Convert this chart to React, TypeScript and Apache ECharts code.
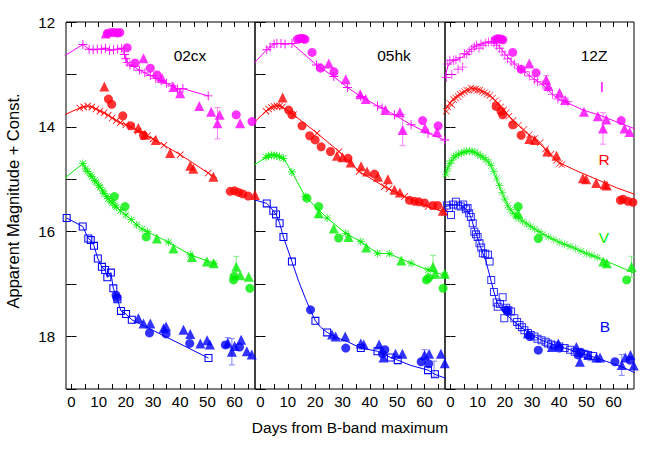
import React, { useEffect, useRef } from "react";
import * as echarts from "echarts";

// ---------- tick values ----------
const X_TICKS = [0, 5, 10, 15, 20, 25, 30, 35, 40, 45, 50, 55, 60, 65];
const X_LABELS = [0, 10, 20, 30, 40, 50, 60];
const PANELS = ["02cx", "05hk", "12Z"];
const BANDS = ["I", "R", "V", "B"];

// ---------- SN 2002cx ----------
const I_02cx_pts = [[4.2,12.43],[6.5,12.52],[8,12.53],[9.5,12.52],[11,12.52],[12.5,12.5],[14,12.54],[15.5,12.53],[17,12.52],[18.5,12.5],[19.5,12.62],[20,12.7],[20.5,12.77],[21.5,12.82],[23,12.85],[25,12.92],[27,12.97],[29,13.02],[31,13.08],[33,13.12],[35,13.17],[37,13.22],[39,13.28],[41,13.27],[50.3,13.41]];
const I_02cx_extra = [[-3,12.66]];
const I_02cx_circ = [[13.2,12.22],[14.5,12.2],[15.8,12.2],[17,12.21],[17.8,12.2],[20.5,12.49],[23.4,12.78],[29,12.88],[31.5,13.01],[60.6,13.77],[66.4,13.9]];
const I_02cx_tri = [[12.6,12.22],[26.5,12.69],[33.3,13.07],[37.5,13.24],[40,13.36],[47,13.6],[51.4,13.71],[54.5,13.77],[53.7,13.93],[62,13.93],[67.6,14.09]];
const I_02cx_err = [[53.7,13.93,0.3]];

const R_02cx_pts = [[3.1,13.64],[4.5,13.62],[6,13.6],[7.5,13.62],[9,13.66],[10.5,13.7],[12,13.73],[13.5,13.78],[15,13.83],[16.5,13.88],[18,13.92],[20,13.96],[22,14.0],[24.5,14.08],[28,14.17],[30,14.23],[34,14.35],[40,14.53],[50.3,14.88]];
const R_02cx_extra = [[-3,13.78],[53.5,14.98]];
const R_02cx_circ = [[13.6,13.47],[14.8,13.57],[18.9,13.79],[21.8,13.98],[26.5,14.16],[58.4,15.23],[60,15.22],[61.5,15.25],[63,15.28],[65,15.32]];
const R_02cx_tri = [[12.1,13.23],[24.6,14.02],[27,14.15],[31,14.25],[36.3,14.5],[43.7,14.74],[44.8,14.8],[52.2,14.95],[67.5,15.3]];
const R_02cx_err: number[][] = [];

const V_02cx_pts = [[4.2,14.7],[5.2,14.8],[6,14.85],[7,14.92],[7.5,14.95],[8.5,15.02],[9,15.05],[10,15.12],[10.5,15.15],[11.5,15.22],[12,15.27],[13,15.33],[13.5,15.37],[14.5,15.42],[15,15.45],[16,15.5],[16.5,15.53],[18,15.6],[20,15.68],[22,15.77],[24,15.87],[26,15.95],[28,16.0],[35.7,16.2],[43.7,16.44],[52.3,16.6]];
const V_02cx_extra = [[-3,15.0],[53.5,16.62]];
const V_02cx_circ = [[15.8,15.33],[19.7,15.52],[27.5,16.1],[59.6,16.92],[59.8,16.85],[65.6,17.08]];
const V_02cx_tri = [[31.4,16.13],[37.5,16.32],[44.3,16.48],[49.8,16.57],[52.3,16.6],[60.6,16.67],[62.1,16.83],[65.2,16.86],[67.6,16.9]];
const V_02cx_err = [[60.6,16.67,0.2]];

const B_02cx_pts = [[-1.75,15.74],[4.15,15.9],[6.2,16.13],[7.1,16.16],[8.3,16.27],[9.7,16.51],[11.2,16.67],[12.4,16.73],[13.2,16.87],[14.5,16.78],[15.4,17.08],[16.9,17.29],[18.2,17.51],[20.1,17.57],[22.2,17.68],[50.4,18.41]];
const B_02cx_extra: number[][] = [];
const B_02cx_circ = [[16.4,17.21],[16.7,17.26],[28.7,17.93],[34.8,17.95],[43.5,18.13],[56.6,18.16],[61.8,18.2]];
const B_02cx_tri = [[24.6,17.65],[26.5,17.75],[29,17.75],[33.9,17.84],[34.8,17.81],[41.2,17.87],[43.7,17.95],[47.4,18.13],[49.9,18.07],[50.9,18.15],[57.5,18.12],[59,18.29],[60,18.18],[62.4,18.06],[64.5,18.28],[66.3,18.34],[68,18.36]];
const B_02cx_err = [[59,18.29,0.25],[57.5,18.12,0.1]];

// ---------- SN 2005hk ----------
const I_05hk_pts = [[2.3,12.53],[3.5,12.48],[5,12.42],[6,12.41],[7.5,12.41],[9,12.42],[11.5,12.41],[20.5,12.82],[26.8,13.04],[31.8,13.25],[36.7,13.42],[42.8,13.6],[44.5,13.64],[49,13.77],[55.1,13.96],[61.3,14.12],[67.4,14.25]];
const I_05hk_extra = [[-3,12.82],[69,14.29]];
const I_05hk_circ = [[13.5,12.33],[14.3,12.32],[15,12.31],[15.8,12.32],[16.3,12.33],[18.9,12.58],[22,12.88],[26.9,12.95],[59.3,13.88],[65,13.98]];
const I_05hk_tri = [[25,12.79],[31.2,13.09],[36.5,13.38],[38.5,13.47],[45.7,13.68],[51,13.72],[52,14.06],[60.2,14.02],[64.6,14.1],[68,14.25]];
const I_05hk_err = [[52,14.06,0.3],[21.5,12.85,0.06]];

const R_05hk_pts = [[2,13.7],[3,13.66],[4,13.63],[5,13.61],[6,13.6],[7,13.6],[8,13.62],[12.1,13.77],[20.7,14.12],[28.7,14.47],[36.1,14.85],[45.3,15.14],[47,15.18],[52.7,15.33],[61.3,15.52],[67.4,15.63]];
const R_05hk_extra = [[-3,13.95],[69,15.65]];
const R_05hk_circ = [[10.3,13.68],[11.5,13.77],[15.2,13.98],[18,14.17],[20,14.25],[22.2,14.38],[25.6,14.47],[32,14.6],[41.7,14.9],[54.5,15.4],[56.4,15.42],[58,15.43],[60,15.45],[63,15.5],[64.8,15.5]];
const R_05hk_tri = [[8.1,13.44],[28,14.55],[30,14.58],[33,14.68],[36.8,14.75],[39,14.85],[43,14.95],[46.6,15.0],[49,15.2],[51,15.25],[66.7,15.6]];
const R_05hk_err: number[][] = [];

const V_05hk_pts = [[2,14.58],[3,14.55],[4,14.54],[5,14.54],[6,14.55],[7,14.57],[8.4,14.6],[11.5,14.86],[16.4,15.33],[24.4,15.74],[31.2,16.03],[36.7,16.19],[42.8,16.41],[47.1,16.42],[55.1,16.6],[61.3,16.73],[67.4,16.83]];
const V_05hk_extra = [[-3,14.75],[69,16.85]];
const V_05hk_circ = [[17,15.36],[21.3,15.52],[28.6,16.12],[60.7,16.92],[61.5,16.88],[66.8,17.08]];
const V_05hk_tri = [[21.3,15.65],[26.8,15.94],[32.2,16.1],[38.7,16.3],[51.5,16.55],[63.1,16.67],[64,16.8],[67.4,16.8]];
const V_05hk_err = [[21.3,15.65,0.08],[63.1,16.67,0.22]];

const B_05hk_pts = [[2.3,15.46],[4.7,15.6],[5.7,15.67],[7,15.84],[8.4,16.1],[11.5,16.57],[20.1,17.7],[24.4,17.92],[36.7,18.22],[42.8,18.28],[47.7,18.4],[50.2,18.45],[61.3,18.64],[63.8,18.72]];
const B_05hk_extra = [[-3,15.38],[14,16.95],[16.5,17.28],[18.3,17.5],[22,17.82],[28,18.02],[32,18.1],[55,18.55],[69,18.82]];
const B_05hk_circ = [[18.3,17.49],[31.2,18.22],[44.6,18.33],[45.5,18.25],[58.8,18.48],[61.5,18.52]];
const B_05hk_tri = [[26.2,17.96],[27.5,18.0],[31,18.0],[36.7,18.13],[37.8,18.15],[43.4,18.15],[45,18.4],[49.4,18.33],[51.9,18.33],[60,18.35],[61.7,18.33],[66,18.33],[67.4,18.51]];
const B_05hk_err = [[60,18.35,0.1],[63.5,18.62,0.15]];

// ---------- SN 2012Z ----------
const I_12Z_pts = [[-1.5,13.06],[-1,12.8],[-0.2,12.73],[0.5,13.0],[1.2,12.73],[2,12.72],[2.8,12.9],[3.5,12.68],[4.5,12.86],[5.2,12.6],[6,12.62],[6.9,12.56],[7.8,12.52],[8.8,12.47],[9.6,12.44],[10.5,12.5],[11.2,12.42],[12,12.45],[13,12.4],[14,12.38],[15,12.37],[16,12.4],[17,12.45],[18,12.5],[19,12.57],[20,12.63],[21,12.7],[22.3,12.76],[23.5,12.8],[25,12.88],[26,12.9],[27.2,12.95],[29,13.03],[30.9,13.1],[32,13.14],[34,13.2],[35.8,13.26],[37.5,13.38],[39.5,13.47],[41,13.5],[43.2,13.52]];
const I_12Z_fit = [[-2,13.05],[-1,12.85],[0,12.78],[2,12.72],[4,12.68],[6,12.6],[8,12.5],[10,12.44],[12,12.41],[14,12.38],[16,12.39],[18,12.47],[20,12.6],[22,12.72],[24,12.82],[26,12.9],[28,12.98],[30,13.06],[32,13.13],[34,13.2],[36,13.3],[38,13.4],[40,13.48],[43,13.54],[48.8,13.68],[55,13.78],[62.3,13.93],[69,14.06]];
const I_12Z_circ = [[16.5,12.34],[17.2,12.32],[18,12.32],[18.8,12.33],[19.3,12.34],[22.9,12.58],[26,12.9],[31.5,12.97],[62.8,13.88]];
const I_12Z_tri = [[29,12.79],[35.2,13.1],[36,13.22],[40.1,13.35],[42.2,13.49],[49.1,13.71],[54.2,13.8],[57.3,13.86],[56.1,14.03],[64,14.03],[65.9,14.1]];
const I_12Z_err = [[56.1,14.03,0.3],[35.2,13.1,0.08]];

const R_12Z_pts = [[-1.5,13.7],[-1,13.62],[-0.2,13.55],[0.5,13.58],[1.2,13.48],[2,13.45],[2.8,13.42],[3.6,13.38],[4.4,13.36],[5.2,13.33],[6,13.3],[6.8,13.3],[7.6,13.26],[8.4,13.28],[9.2,13.28],[10,13.3],[10.8,13.3],[11.6,13.33],[12.5,13.35],[13.5,13.38],[14.5,13.4],[15.5,13.45],[16.5,13.5],[17.5,13.55],[18.5,13.62],[19.5,13.68],[20.5,13.73],[21.5,13.8],[23,13.88],[25,13.97],[27,14.05],[29,14.15],[31,14.22],[33,14.3],[35,14.42],[37,14.52],[39,14.64],[40.1,14.7],[41,14.72]];
const R_12Z_fit = [[-2,13.68],[0,13.52],[2,13.42],[4,13.35],[6,13.3],[8,13.27],[10,13.28],[12,13.32],[14,13.38],[16,13.47],[18,13.58],[20,13.7],[22,13.82],[24,13.92],[26,14.02],[28,14.12],[30,14.2],[32,14.28],[34,14.38],[36,14.5],[38,14.6],[40,14.68],[42,14.73],[46,14.83],[51,14.94],[56,15.05],[61,15.16],[69,15.31]];
const R_12Z_circ = [[16.8,13.61],[18.6,13.7],[19.2,13.77],[22.9,13.96],[26,14.16],[62.5,15.4],[63.5,15.38],[65.3,15.42],[67.1,15.44]];
const R_12Z_tri = [[29,14.23],[31,14.25],[35.6,14.47],[39,14.55],[48.7,14.98],[49.9,15.0],[53.6,15.07],[56.7,15.1],[57.5,15.12]];
const R_12Z_err: number[][] = [];

const V_12Z_pts = [[-1.6,14.9],[-1,14.8],[-0.4,14.7],[0.4,14.65],[1.2,14.58],[2,14.55],[3,14.52],[4,14.5],[5,14.48],[6,14.47],[7,14.46],[8,14.47],[9,14.48],[10,14.52],[11,14.55],[12,14.58],[13,14.62],[14,14.67],[15,14.74],[16,14.85],[17,14.98],[18,15.12],[19,15.25],[20,15.38],[21,15.5],[22,15.58],[23,15.65],[24,15.7],[25,15.75],[26.5,15.8],[28,15.85],[29.5,15.9],[31,15.95],[32.5,16.0],[34,16.05],[36,16.1],[38,16.15],[40,16.2],[42,16.24],[44,16.28],[46,16.32],[48,16.37],[50,16.42],[52,16.45],[54,16.49]];
const V_12Z_fit = [[-2,14.95],[-1,14.78],[0,14.68],[2,14.56],[4,14.5],[6,14.47],[8,14.47],[10,14.51],[12,14.58],[14,14.68],[15,14.76],[16,14.87],[17,15.0],[18,15.13],[19,15.26],[20,15.38],[21,15.49],[22,15.57],[24,15.68],[26,15.77],[28,15.84],[30,15.91],[32,15.98],[34,16.04],[36,16.1],[40,16.2],[44,16.28],[48,16.37],[52,16.45],[56,16.54],[60,16.62],[64,16.71],[69,16.83]];
const V_12Z_circ = [[24.9,15.52],[32.3,16.13],[64.8,16.92]];
const V_12Z_tri = [[24.9,15.65],[56.2,16.57],[57.5,16.6],[66.6,16.67],[67.8,16.76]];
const V_12Z_err = [[66.6,16.67,0.2]];

const B_12Z_pts = [[-1.3,15.5],[-0.5,15.55],[0.2,15.68],[1,15.48],[2,15.43],[2.8,15.5],[3.8,15.52],[4.7,15.48],[5.7,15.57],[6.3,15.55],[6.9,15.65],[7.5,15.72],[8.2,15.84],[8.8,16.0],[9.4,16.05],[10,16.1],[10.7,16.22],[11.3,16.3],[11.9,16.41],[12.8,16.42],[13.8,16.44],[14.4,16.57],[15,16.92],[16,17.15],[17,17.35],[17.4,17.43],[18.2,17.38],[19.2,17.25],[19.8,17.65],[20.5,17.45],[21.3,17.5],[22.3,17.52],[23.5,17.65],[24.5,17.72],[25.4,17.78],[26.3,17.82],[27.2,17.88],[28.5,17.93],[29.5,17.97],[30.9,18.0],[32,18.04],[33.5,18.07],[35,18.1],[35.8,18.13],[37,18.15],[38.5,18.17],[40,18.19],[42,18.22],[44,18.25],[45.7,18.29],[47.5,18.31],[49,18.33],[50.6,18.35],[52.5,18.37]];
const B_12Z_fit = [[-2,15.52],[0,15.5],[2,15.48],[4,15.5],[6,15.58],[7,15.66],[8,15.8],[9,15.98],[10,16.12],[11,16.28],[12,16.42],[13,16.55],[14,16.75],[15,16.95],[16,17.15],[17,17.32],[18,17.43],[19,17.5],[20,17.56],[22,17.65],[24,17.74],[26,17.82],[28,17.9],[30,17.97],[32,18.03],[34,18.08],[36,18.12],[40,18.19],[44,18.25],[48,18.32],[52,18.38],[56,18.45],[60,18.52],[64,18.6],[69,18.72]];
const B_12Z_circ = [[20.6,17.49],[21,17.52],[29.2,18.0],[32.3,18.26],[40,18.22],[46.9,18.35],[48,18.3],[60.5,18.48],[66,18.45]];
const B_12Z_tri = [[28.5,17.94],[37.3,18.2],[39.7,18.13],[46.3,18.2],[47.6,18.48],[50.7,18.35],[53.7,18.4],[55,18.4],[63,18.54],[64.3,18.4],[66.2,18.35],[67.4,18.55]];
const B_12Z_err = [[63,18.54,0.2],[51.5,18.38,0.08]];

// ---------- table assembled from the arrays ----------
type Pt = number[];
interface BandSet { pts: Pt[]; line: Pt[]; connect: boolean; circ: Pt[]; tri: Pt[]; err: Pt[] }
const TABLE: Record<string, Record<string, BandSet>> = {
  "02cx": {
    I: { pts: I_02cx_pts, line: I_02cx_extra, connect: true, circ: I_02cx_circ, tri: I_02cx_tri, err: I_02cx_err },
    R: { pts: R_02cx_pts, line: R_02cx_extra, connect: true, circ: R_02cx_circ, tri: R_02cx_tri, err: R_02cx_err },
    V: { pts: V_02cx_pts, line: V_02cx_extra, connect: true, circ: V_02cx_circ, tri: V_02cx_tri, err: V_02cx_err },
    B: { pts: B_02cx_pts, line: B_02cx_extra, connect: true, circ: B_02cx_circ, tri: B_02cx_tri, err: B_02cx_err },
  },
  "05hk": {
    I: { pts: I_05hk_pts, line: I_05hk_extra, connect: true, circ: I_05hk_circ, tri: I_05hk_tri, err: I_05hk_err },
    R: { pts: R_05hk_pts, line: R_05hk_extra, connect: true, circ: R_05hk_circ, tri: R_05hk_tri, err: R_05hk_err },
    V: { pts: V_05hk_pts, line: V_05hk_extra, connect: true, circ: V_05hk_circ, tri: V_05hk_tri, err: V_05hk_err },
    B: { pts: B_05hk_pts, line: B_05hk_extra, connect: true, circ: B_05hk_circ, tri: B_05hk_tri, err: B_05hk_err },
  },
  "12Z": {
    I: { pts: I_12Z_pts, line: I_12Z_fit, connect: false, circ: I_12Z_circ, tri: I_12Z_tri, err: I_12Z_err },
    R: { pts: R_12Z_pts, line: R_12Z_fit, connect: false, circ: R_12Z_circ, tri: R_12Z_tri, err: R_12Z_err },
    V: { pts: V_12Z_pts, line: V_12Z_fit, connect: false, circ: V_12Z_circ, tri: V_12Z_tri, err: V_12Z_err },
    B: { pts: B_12Z_pts, line: B_12Z_fit, connect: false, circ: B_12Z_circ, tri: B_12Z_tri, err: B_12Z_err },
  },
};

// ---------- styles ----------
const FONT = '"Liberation Sans", Arial, Helvetica, sans-serif';
const PLUS = "path://M0,4.5H10V5.5H0Z M4.5,0H5.5V10H4.5Z";
const CROSS = "path://M0.8,0L10,9.2L9.2,10L0,0.8Z M9.2,0L10,0.8L0.8,10L0,9.2Z";
const STAR = "path://M0,4.55H10V5.45H0Z M4.55,0H5.45V10H4.55Z M1.5,0.9L9.1,8.5L8.5,9.1L0.9,1.5Z M8.5,0.9L9.1,1.5L1.5,9.1L0.9,8.5Z";
const OSQUARE = "path://M0,0H10V10H0Z M1.3,1.3V8.7H8.7V1.3Z";

const BAND_STYLE: Record<string, { color: string; light: string; sym: string; size: number }> = {
  I: { color: "#ff00ff", light: "#ff80ff", sym: PLUS, size: 9 },
  R: { color: "#ff0000", light: "#ff8080", sym: CROSS, size: 7 },
  V: { color: "#00ee00", light: "#80f080", sym: STAR, size: 8 },
  B: { color: "#0000ff", light: "#8080ff", sym: OSQUARE, size: 8 },
};

const GRID_LEFT = [66, 255, 445];
const GRID_WIDTH = [189, 190, 189];

export default function App() {
  const ref = useRef<HTMLDivElement>(null);
  useEffect(() => {
    if (!ref.current) return;
    const chart = echarts.init(ref.current, null, { renderer: "svg" });

    const grid = PANELS.map((_, p) => ({
      left: GRID_LEFT[p], top: 22, width: GRID_WIDTH[p], height: 367,
      show: true, borderColor: "#000", borderWidth: 1, backgroundColor: "transparent",
    }));

    const xAxis: any[] = [];
    const yAxis: any[] = [];
    PANELS.forEach((_, p) => {
      ["bottom", "top"].forEach((pos) => {
        xAxis.push({
          gridIndex: p, type: "value", position: pos, min: -2, max: 67.5,
          axisLine: { show: false }, splitLine: { show: false },
          axisTick: { show: true, inside: true, length: 5, customValues: X_TICKS, lineStyle: { color: "#000" } },
          axisLabel: {
            show: pos === "bottom", customValues: X_LABELS, margin: 5,
            color: "#000", fontSize: 15, fontFamily: FONT,
          },
        });
      });
      ["left", "right"].forEach((pos) => {
        yAxis.push({
          gridIndex: p, type: "value", position: pos, inverse: true, min: 12, max: 19, interval: 1,
          axisLine: { show: false }, splitLine: { show: false },
          axisTick: { show: true, inside: true, length: 5, lineStyle: { color: "#000" } },
          axisLabel: {
            show: p === 0 && pos === "left", margin: 11, color: "#000", fontSize: 15, fontFamily: FONT,
            formatter: (v: number) => (Math.round(v) % 2 === 0 ? String(v) : ""),
          },
        });
      });
    });

    const series: any[] = [];
    PANELS.forEach((name, p) => {
      BANDS.forEach((b) => {
        const d = TABLE[name][b];
        const st = BAND_STYLE[b];
        const axes = { xAxisIndex: 2 * p, yAxisIndex: 2 * p };
        if (d.err.length) {
          series.push({
            type: "custom", ...axes, data: d.err, z: 1, clip: true,
            encode: { x: 0, y: 1 },
            renderItem: (_params: any, api: any) => {
              const x = api.value(0), y = api.value(1), e = api.value(2);
              const a = api.coord([x, y - e]);
              const c = api.coord([x, y + e]);
              const style = { stroke: st.light, lineWidth: 1 };
              return {
                type: "group",
                children: [
                  { type: "line", shape: { x1: a[0], y1: a[1], x2: c[0], y2: c[1] }, style },
                  { type: "line", shape: { x1: a[0] - 3, y1: a[1], x2: a[0] + 3, y2: a[1] }, style },
                  { type: "line", shape: { x1: c[0] - 3, y1: c[1], x2: c[0] + 3, y2: c[1] }, style },
                ],
              };
            },
          });
        }
        const items: any[] = d.line.map((v) => ({ value: v, symbol: "none" }));
        if (d.connect) d.pts.forEach((v) => items.push({ value: v }));
        items.sort((u, w) => u.value[0] - w.value[0]);
        series.push({
          type: "line", ...axes, data: items, z: 2, clip: true,
          symbol: st.sym, symbolSize: st.size, showSymbol: true, showAllSymbol: true,
          lineStyle: { color: st.color, width: 1 },
          itemStyle: { color: st.color, borderWidth: 0 },
          emphasis: { disabled: true },
        });
        if (!d.connect) {
          series.push({
            type: "scatter", ...axes, data: d.pts, z: 3, clip: true,
            symbol: st.sym, symbolSize: st.size,
            itemStyle: { color: st.color, borderWidth: 0 },
          });
        }
        series.push({
          type: "scatter", ...axes, data: d.circ, z: 4, clip: true,
          symbol: "circle", symbolSize: 9, itemStyle: { color: st.color },
        });
        series.push({
          type: "scatter", ...axes, data: d.tri, z: 4, clip: true,
          symbol: "triangle", symbolSize: 10, itemStyle: { color: st.color },
        });
      });
    });

    const txt = (text: string, x: number, y: number, fill: string, size: number, extra: any = {}) => ({
      type: "text", x, y, z: 10, ...extra,
      style: {
        text, fill, font: `${size}px ${FONT}`,
        textAlign: "center", textVerticalAlign: "middle", align: "center", verticalAlign: "middle",
      },
    });

    const graphic = [
      txt("02cx", 190, 55, "#000", 15.5),
      txt("05hk", 394, 55, "#000", 15.5),
      txt("12Z", 594, 55, "#000", 15.5),
      txt("I", 602, 86, BAND_STYLE.I.color, 15.5),
      txt("R", 604, 159, BAND_STYLE.R.color, 15.5),
      txt("V", 604, 237, BAND_STYLE.V.color, 15.5),
      txt("B", 605, 326, BAND_STYLE.B.color, 15.5),
      txt("Days from B-band maximum", 350, 427, "#000", 15.5),
      txt("Apparent Magnitude + Const.", 13, 201, "#000", 16.5, { rotation: Math.PI / 2 }),
    ];

    chart.setOption({
      animation: false,
      backgroundColor: "#fff",
      grid, xAxis, yAxis, series, graphic,
    });
    return () => chart.dispose();
  }, []);

  return (
    <div
      ref={ref}
      style={{ position: "absolute", left: 0, top: 0, width: 654, height: 458 }}
    />
  );
}
